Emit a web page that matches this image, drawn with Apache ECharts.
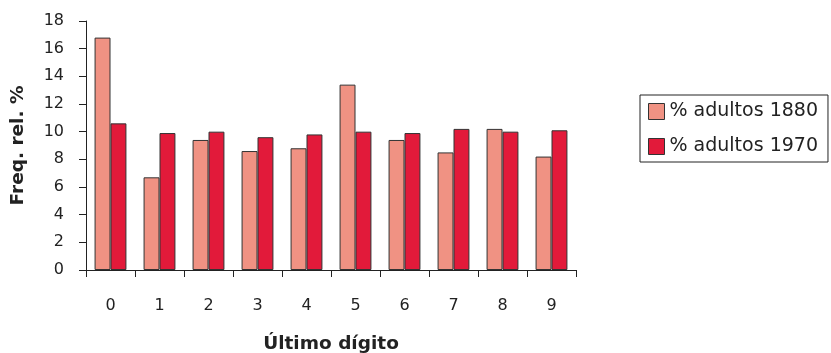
<!DOCTYPE html>
<html><head><meta charset="utf-8">
<script src="https://cdn.jsdelivr.net/npm/echarts@6/dist/echarts.min.js"></script>
<style>html,body{margin:0;padding:0;background:#fff}#c{width:831px;height:353px}</style>
</head><body><div id="c"></div>
<script>
const categories = ['0','1','2','3','4','5','6','7','8','9'];
const adultos1880 = [16.8, 6.7, 9.4, 8.6, 8.8, 13.4, 9.4, 8.5, 10.2, 8.2];
const adultos1970 = [10.6, 9.9, 10.0, 9.6, 9.8, 10.0, 9.9, 10.2, 10.0, 10.1];
const seriesNames = ['% adultos 1880', '% adultos 1970'];
const yTicks = [0, 2, 4, 6, 8, 10, 12, 14, 16, 18];

const font = 'DejaVu Sans, Verdana, sans-serif';
const chart = echarts.init(document.getElementById('c'));
chart.setOption({
  animation: false,
  grid: { left: 86, right: 255, top: 21, bottom: 83, containLabel: false, outerBoundsMode: 'none' },
  legend: {
    data: seriesNames,
    orient: 'vertical',
    left: 640, top: 95,
    padding: [7, 10, 6, 8],
    itemGap: 16,
    itemWidth: 16, itemHeight: 16,
    icon: 'rect',
    borderColor: '#222', borderWidth: 1,
    textStyle: { fontFamily: font, fontSize: 19, color: '#222' },
    itemStyle: { borderColor: '#333', borderWidth: 1 }
  },
  xAxis: {
    type: 'category',
    data: categories,
    name: 'Último dígito',
    nameLocation: 'middle',
    nameGap: 65,
    nameTextStyle: { fontFamily: font, fontSize: 18.5, fontWeight: 'bold', color: '#222' },
    axisLine: { lineStyle: { color: '#222', width: 1 } },
    axisTick: { show: true, length: 7, lineStyle: { color: '#222' }, alignWithLabel: false },
    axisLabel: { fontFamily: font, fontSize: 16, color: '#222', margin: 28 }
  },
  yAxis: {
    type: 'value',
    min: yTicks[0], max: yTicks[yTicks.length - 1], interval: 2,
    name: 'Freq. rel. %',
    nameLocation: 'middle',
    nameGap: 58,
    nameRotate: 90,
    nameTextStyle: { fontFamily: font, fontSize: 18.5, fontWeight: 'bold', color: '#222' },
    axisLine: { show: true, lineStyle: { color: '#222', width: 1 } },
    axisTick: { show: true, length: 7, lineStyle: { color: '#222' } },
    axisLabel: { fontFamily: font, fontSize: 16, color: '#222', margin: 22 },
    splitLine: { show: false }
  },
  series: [
    { name: seriesNames[0], type: 'bar', data: adultos1880, barGap: '0%', barCategoryGap: '35%',
      itemStyle: { color: '#F09283', borderColor: '#333', borderWidth: 1 } },
    { name: seriesNames[1], type: 'bar', data: adultos1970, barGap: '0%', barCategoryGap: '35%',
      itemStyle: { color: '#E21A3A', borderColor: '#333', borderWidth: 1 } }
  ]
});
</script></body></html>
